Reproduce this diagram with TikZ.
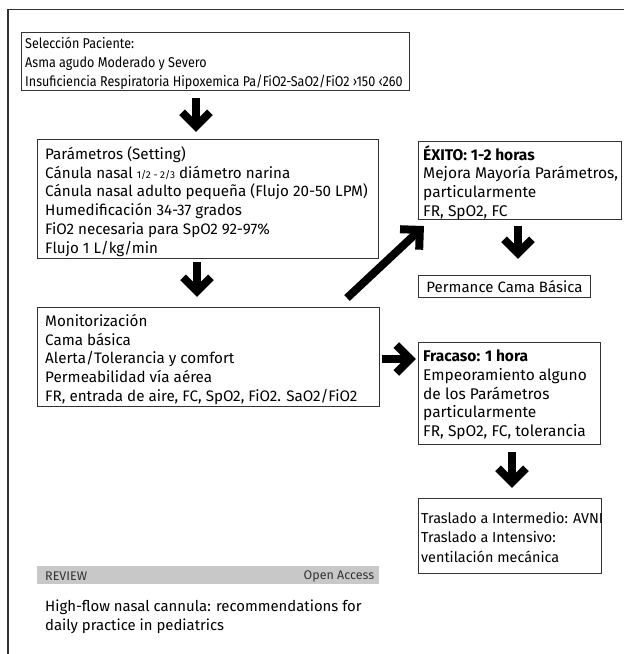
\documentclass[tikz,border=0pt]{standalone}
\usepackage{fontspec}
\setmainfont{Fira Sans}
\newfontfamily\condfont[FakeStretch=0.885]{Fira Sans}
\usetikzlibrary{calc}
\definecolor{boxline}{HTML}{333333}
\definecolor{barfill}{HTML}{C8C8C8}
\definecolor{bartext}{HTML}{333333}
\newcommand\thickarr[2]{%
  \coordinate (V) at ($(#2)!5.7pt!(#1)$);
  \draw[line width=8pt] (#1) -- (V);
  \draw[line width=8pt, line join=miter] ($(V)!19.8pt!45:(#1)$) -- (V) -- ($(V)!19.8pt!-45:(#1)$);
}
\begin{document}
\begin{tikzpicture}[x=1pt,y=-1pt,
  box/.style={draw=boxline, line width=0.9pt, anchor=north west, inner sep=0pt},
  txt/.style={anchor=west, align=left, inner sep=0pt, font=\fontsize{15.2}{18.7}\selectfont},
  rtxt/.style={txt, font=\fontsize{15.5}{18.7}\selectfont}]
\useasboundingbox (0,0) rectangle (624,654);
% outer frame
\draw[boxline, line width=1.5pt] (8,660) -- (8,9.5) -- (630,9.5);

% boxes
\node[box, minimum width=388pt, minimum height=58pt] (sel) at (21,32) {};
\node[txt, font=\condfont\fontsize{14.2}{19}\selectfont] (selt) at ([xshift=4pt,yshift=-1.5pt]sel.west) {Selección Paciente:\\Asma agudo Moderado y Severo\\Insuficiencia Respiratoria Hipoxemica Pa/FiO2-SaO2/FiO2 ›150 ‹260};

\node[box, minimum width=341pt, minimum height=119pt] (par) at (37,139) {};
\node[txt] (part) at ([xshift=8pt,yshift=-2.5pt]par.west) {Parámetros (Setting)\\Cánula nasal {\fontsize{10}{9}\selectfont 1/2 - 2/3} diámetro narina\\Cánula nasal adulto pequeña (Flujo 20-50 LPM)\\Humedificación 34-37 grados\\FiO2 necesaria para SpO2 92-97\%\\Flujo 1 L/kg/min};

\node[box, minimum width=342pt, minimum height=99pt] (mon) at (37,307) {};
\node[txt] (mont) at ([xshift=8pt,yshift=-2.5pt]mon.west) {Monitorización\\Cama básica\\Alerta/Tolerancia y comfort\\Permeabilidad vía aérea\\FR, entrada de aire, FC, SpO2, FiO2. SaO2/FiO2};

\node[box, minimum width=203pt, minimum height=78pt] (exi) at (418,141) {};
\node[rtxt] (exit) at ([xshift=5pt,yshift=-2pt]exi.west) {\textbf{ÉXITO: 1-2 horas}\\Mejora Mayoría Parámetros,\\particularmente\\FR, SpO2, FC};

\node[box, minimum width=172pt, minimum height=22pt] (perm) at (418,275) {};
\node[rtxt, anchor=center, font=\fontsize{15}{18.7}\selectfont] (permt) at ([yshift=-0.5pt]perm.center) {Permance Cama Básica};

\node[box, minimum width=182pt, minimum height=102pt] (fra) at (418,342) {};
\node[rtxt] (frat) at ([xshift=5pt,yshift=-1.5pt]fra.west) {\textbf{Fracaso: 1 hora}\\Empeoramiento alguno\\de los Parámetros\\particularmente\\FR, SpO2, FC, tolerancia};

\node[box, minimum width=183pt, minimum height=75pt] (tra) at (418,498) {};
\node[txt, font=\fontsize{14.4}{19.5}\selectfont] (trat) at ([xshift=3pt,yshift=-1.5pt]tra.west) {Traslado a Intermedio: AVNI\\Traslado a Intensivo:\\ventilación mecánica};

% arrows
\coordinate (a1s) at (196,98);  \coordinate (a1e) at (196,132);
\coordinate (a2s) at (197,262); \coordinate (a2e) at (197,297);
\coordinate (a3s) at (347,298); \coordinate (a3e) at (424,226);
\coordinate (a4s) at (382,359); \coordinate (a4e) at (416,359);
\coordinate (a5s) at (518,226); \coordinate (a5e) at (518,259);
\coordinate (a6s) at (512,452); \coordinate (a6e) at (512,488);
\thickarr{a1s}{a1e}
\thickarr{a2s}{a2e}
\thickarr{a3s}{a3e}
\thickarr{a4s}{a4e}
\thickarr{a5s}{a5e}
\thickarr{a6s}{a6e}

% footer
\node[anchor=north west, fill=barfill, minimum width=342pt, minimum height=18pt, inner sep=0pt] (bar) at (37,566) {};
\node[anchor=west, inner sep=0pt, text=bartext, font=\fontsize{12.5}{12}\selectfont] (rev) at ([xshift=8pt,yshift=-1pt]bar.west) {REVIEW};
\node[anchor=east, inner sep=0pt, text=bartext, font=\fontsize{12.5}{12}\selectfont] (oa) at ([xshift=-5pt,yshift=-1pt]bar.east) {Open Access};
\node[anchor=west, align=left, inner sep=0pt, font=\fontsize{14.9}{18.7}\selectfont] (ttl) at (45,617) {High-flow nasal cannula: recommendations for\\daily practice in pediatrics};
\end{tikzpicture}
\end{document}
